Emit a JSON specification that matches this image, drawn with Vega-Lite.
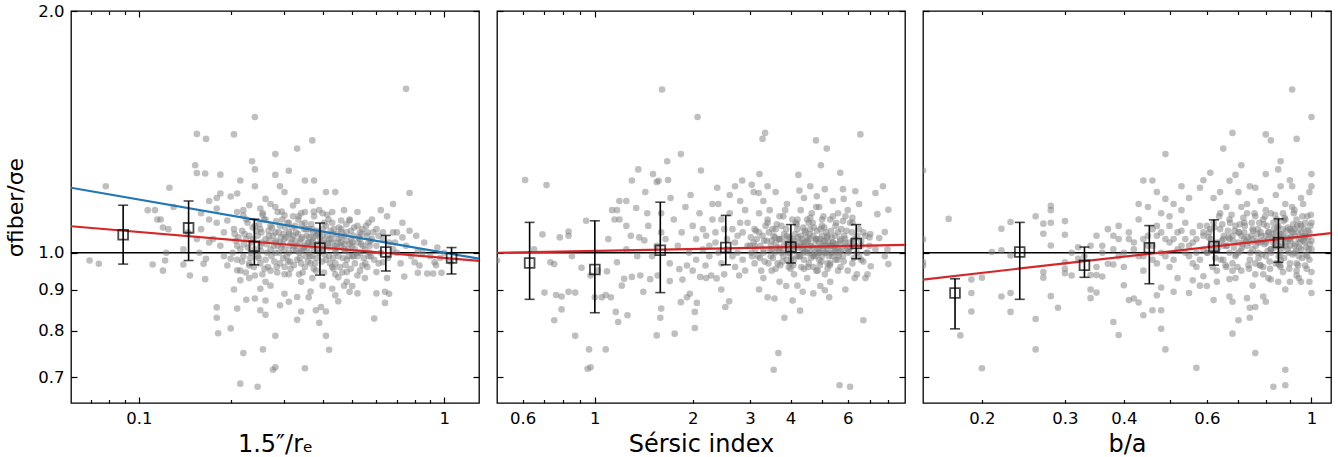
{
"$schema":"https://vega.github.io/schema/vega-lite/v6.json",
"background":"white",
"padding":{"left":4,"top":2,"right":5,"bottom":0},
"spacing":18,
"bounds":"flush",
"config":{
 "view":{"stroke":"black","strokeWidth":1.3},
 "axis":{"grid":false,"domain":false,"tickColor":"black","tickWidth":1.2,"labelFont":"DejaVu Sans","labelFontSize":16.5,"labelColor":"black","titleFont":"DejaVu Sans","titleFontSize":24,"titleFontWeight":"normal","titleColor":"black","labelOverlap":false,"labelFlush":false}
},
"datasets":{
 "one":[{"a":1}],
 "b1":[{"x":0.0889,"y":1.053,"lo":0.968,"hi":1.146},{"x":0.1456,"y":1.074,"lo":0.978,"hi":1.16},{"x":0.239,"y":1.019,"lo":0.966,"hi":1.101},{"x":0.392,"y":1.0135,"lo":0.938,"hi":1.089},{"x":0.644,"y":1.002,"lo":0.949,"hi":1.051},{"x":1.057,"y":0.985,"lo":0.941,"hi":1.015}],
 "b2":[{"x":0.63,"y":0.971,"lo":0.875,"hi":1.091},{"x":1.0,"y":0.953,"lo":0.842,"hi":1.096},{"x":1.59,"y":1.007,"lo":0.892,"hi":1.156},{"x":2.528,"y":1.015,"lo":0.966,"hi":1.113},{"x":4.01,"y":1.0165,"lo":0.971,"hi":1.084},{"x":6.37,"y":1.027,"lo":0.983,"hi":1.084}],
 "b3":[{"x":0.1754,"y":0.891,"lo":0.804,"hi":0.928},{"x":0.2406,"y":1.002,"lo":0.875,"hi":1.091},{"x":0.33,"y":0.965,"lo":0.932,"hi":1.0165},{"x":0.453,"y":1.0144,"lo":0.915,"hi":1.081},{"x":0.621,"y":1.0183,"lo":0.965,"hi":1.099},{"x":0.851,"y":1.03,"lo":0.973,"hi":1.102}],
 "f1":[{"x":0.06,"y":1.079,"c":"r"},{"x":1.3,"y":0.977,"c":"r"},{"x":0.06,"y":1.205,"c":"b"},{"x":1.3,"y":0.983,"c":"b"}],
 "f2":[{"x":0.5,"y":1.0,"c":"r"},{"x":9,"y":1.023,"c":"r"}],
 "f3":[{"x":0.15,"y":0.926,"c":"r"},{"x":1.1,"y":1.058,"c":"r"}],
 "s1":[
{"x":0.75,"y":1.6},{"x":0.24,"y":1.476},{"x":0.155,"y":1.406},{"x":0.166,"y":1.386},{"x":0.205,"y":1.404},{"x":0.37,"y":1.38},{"x":0.33,"y":1.348},{"x":0.28,"y":1.327},{"x":0.235,"y":1.3},{"x":0.153,"y":1.285},{"x":0.24,"y":1.27},{"x":0.155,"y":1.257},{"x":0.165,"y":1.255},{"x":0.185,"y":1.251},{"x":0.31,"y":1.265},{"x":0.28,"y":1.25},{"x":0.215,"y":1.23},{"x":0.35,"y":1.23},{"x":0.375,"y":1.23},{"x":0.126,"y":1.205},{"x":0.24,"y":1.21},{"x":0.078,"y":1.21},{"x":0.29,"y":1.21},{"x":0.41,"y":1.19},{"x":0.44,"y":1.19},{"x":0.77,"y":1.187},{"x":0.185,"y":1.185},{"x":0.21,"y":1.185},{"x":0.3,"y":1.19},{"x":0.33,"y":1.16},{"x":0.37,"y":1.16},{"x":0.68,"y":1.15},{"x":0.18,"y":1.17},{"x":0.17,"y":1.16},{"x":0.2,"y":1.175},{"x":0.13,"y":1.14},{"x":0.107,"y":1.13},{"x":0.113,"y":1.13},{"x":0.62,"y":1.13},{"x":0.65,"y":1.11},{"x":0.73,"y":1.09},{"x":0.81,"y":1.05},{"x":0.77,"y":1.065},{"x":0.115,"y":1.1},{"x":0.118,"y":1.1},{"x":0.12,"y":1.075},{"x":0.125,"y":1.07},{"x":0.123,"y":1.0},{"x":0.069,"y":0.978},{"x":0.074,"y":0.969},{"x":0.111,"y":0.967},{"x":0.12,"y":0.95},{"x":0.122,"y":0.978},{"x":0.14,"y":0.967},{"x":0.147,"y":0.937},{"x":0.163,"y":0.969},{"x":0.165,"y":0.927},{"x":0.18,"y":0.855},{"x":0.18,"y":0.83},{"x":0.182,"y":0.794},{"x":0.2,"y":0.805},{"x":0.205,"y":0.9},{"x":0.21,"y":0.852},{"x":0.225,"y":0.874},{"x":0.22,"y":0.75},{"x":0.215,"y":0.687},{"x":0.245,"y":0.681},{"x":0.255,"y":0.758},{"x":0.28,"y":0.788},{"x":0.275,"y":0.715},{"x":0.28,"y":0.72},{"x":0.35,"y":0.718},{"x":0.42,"y":0.757},{"x":0.41,"y":0.788},{"x":0.39,"y":0.818},{"x":0.33,"y":0.825},{"x":0.26,"y":0.837},{"x":0.25,"y":0.848},{"x":0.24,"y":0.877},{"x":0.26,"y":0.872},{"x":0.34,"y":0.845},{"x":0.38,"y":0.848},{"x":0.395,"y":0.856},{"x":0.41,"y":0.845},{"x":0.3,"y":0.889},{"x":0.31,"y":0.869},{"x":0.33,"y":0.881},{"x":0.365,"y":0.895},{"x":0.59,"y":0.828},{"x":0.5,"y":0.909},{"x":0.6,"y":0.89},{"x":0.64,"y":0.894},{"x":0.66,"y":0.889},{"x":0.64,"y":0.866},{"x":0.74,"y":0.934},{"x":0.82,"y":0.944},{"x":0.88,"y":0.942},{"x":0.92,"y":0.942},{"x":0.93,"y":0.973},{"x":0.98,"y":0.944},{"x":0.8,"y":0.973},{"x":0.83,"y":0.964},{"x":0.95,"y":1.015},
{"x":0.6,"y":1.07},{"x":0.56,"y":1.06},{"x":0.82,"y":1.005},{"x":0.7,"y":1.06},{"x":0.68,"y":1.01},{"x":0.63,"y":0.973},{"x":0.65,"y":0.93},{"x":0.6,"y":0.946},{"x":0.54,"y":0.964},{"x":0.52,"y":0.937},{"x":0.48,"y":0.946},{"x":0.47,"y":0.91},{"x":0.45,"y":0.932},{"x":0.43,"y":0.902},{"x":0.44,"y":0.885},{"x":0.49,"y":0.894},{"x":0.52,"y":1.124},{"x":0.49,"y":1.097},{"x":0.46,"y":1.097},{"x":0.43,"y":1.124},{"x":0.39,"y":1.13},{"x":0.35,"y":1.124},{"x":0.32,"y":1.145},{"x":0.3,"y":1.113},{"x":0.285,"y":1.124},{"x":0.27,"y":1.15},{"x":0.26,"y":1.167},{"x":0.25,"y":1.135},{"x":0.23,"y":1.146},{"x":0.22,"y":1.113},{"x":0.21,"y":1.124},{"x":0.195,"y":1.097},{"x":0.18,"y":1.135},{"x":0.17,"y":1.1},{"x":0.16,"y":1.07},{"x":0.155,"y":1.04},{"x":0.175,"y":1.04},{"x":0.185,"y":1.02},{"x":0.158,"y":1.0},{"x":0.166,"y":0.983},{"x":0.195,"y":0.964},{"x":0.2,"y":0.983},{"x":0.21,"y":0.951},{"x":0.215,"y":0.924},{"x":0.23,"y":0.964},{"x":0.24,"y":0.937},{"x":0.25,"y":0.902},
{"x":0.21,"y":1.02},{"x":0.22,"y":0.99},{"x":0.23,"y":1.05},{"x":0.24,"y":1.01},{"x":0.25,"y":0.97},{"x":0.26,"y":1.04},{"x":0.27,"y":1.08},{"x":0.28,"y":1.0},{"x":0.29,"y":1.03},{"x":0.3,"y":0.96},{"x":0.31,"y":1.06},{"x":0.32,"y":1.01},{"x":0.33,"y":0.98},{"x":0.34,"y":1.04},{"x":0.35,"y":1.09},{"x":0.36,"y":1.0},{"x":0.37,"y":1.03},{"x":0.38,"y":0.95},{"x":0.4,"y":1.05},{"x":0.42,"y":0.99},{"x":0.44,"y":1.02},{"x":0.46,"y":1.07},{"x":0.48,"y":0.98},{"x":0.5,"y":1.03},{"x":0.53,"y":1.0},{"x":0.56,"y":1.05},{"x":0.59,"y":0.98},
{"x":0.205,"y":1.07},{"x":0.215,"y":0.95},{"x":0.225,"y":1.1},{"x":0.235,"y":1.03},{"x":0.245,"y":0.99},{"x":0.255,"y":1.12},{"x":0.265,"y":0.96},{"x":0.275,"y":1.05},{"x":0.285,"y":1.02},{"x":0.295,"y":1.1},{"x":0.305,"y":0.99},{"x":0.315,"y":1.03},{"x":0.325,"y":1.08},{"x":0.335,"y":0.94},{"x":0.345,"y":1.01},{"x":0.355,"y":1.05},{"x":0.365,"y":0.97},{"x":0.375,"y":1.11},{"x":0.39,"y":1.0},{"x":0.41,"y":1.08},{"x":0.43,"y":0.96},{"x":0.45,"y":1.04},{"x":0.47,"y":1.01},{"x":0.49,"y":1.1},{"x":0.51,"y":0.97},{"x":0.54,"y":1.07},{"x":0.57,"y":1.02},
{"x":0.21,"y":0.98},{"x":0.225,"y":1.04},{"x":0.24,"y":1.08},{"x":0.25,"y":1.02},{"x":0.26,"y":0.98},{"x":0.27,"y":1.01},{"x":0.28,"y":1.06},{"x":0.29,"y":0.97},{"x":0.3,"y":1.04},{"x":0.31,"y":1.0},{"x":0.32,"y":1.11},{"x":0.33,"y":1.02},{"x":0.34,"y":0.97},{"x":0.35,"y":1.02},{"x":0.36,"y":1.07},{"x":0.37,"y":0.99},{"x":0.38,"y":1.05},{"x":0.4,"y":1.01},{"x":0.42,"y":1.04},{"x":0.44,"y":0.97},{"x":0.46,"y":1.02},{"x":0.48,"y":1.06},{"x":0.5,"y":0.99},{"x":0.53,"y":1.04},{"x":0.56,"y":0.96},{"x":0.6,"y":1.02},{"x":0.63,"y":1.04},
{"x":0.215,"y":1.01},{"x":0.23,"y":0.97},{"x":0.245,"y":1.05},{"x":0.26,"y":1.1},{"x":0.27,"y":0.95},{"x":0.28,"y":1.03},{"x":0.29,"y":1.08},{"x":0.3,"y":1.01},{"x":0.31,"y":0.94},{"x":0.32,"y":1.05},{"x":0.335,"y":1.0},{"x":0.35,"y":0.96},{"x":0.36,"y":1.03},{"x":0.375,"y":1.01},{"x":0.39,"y":1.06},{"x":0.41,"y":0.98},{"x":0.43,"y":1.03},{"x":0.45,"y":0.99},{"x":0.47,"y":1.05},{"x":0.5,"y":1.02},{"x":0.53,"y":0.95},{"x":0.57,"y":1.0},{"x":0.61,"y":0.97},{"x":0.66,"y":1.03},{"x":0.7,"y":1.0},{"x":0.75,"y":1.02},{"x":0.85,"y":1.0},{"x":0.9,"y":0.99},{"x":0.72,"y":0.97},{"x":0.68,"y":1.06},
{"x":0.22,"y":1.13},{"x":0.25,"y":1.07},{"x":0.28,"y":1.14},{"x":0.31,"y":1.09},{"x":0.34,"y":1.12},{"x":0.37,"y":1.07},{"x":0.4,"y":1.12},{"x":0.43,"y":1.09},{"x":0.47,"y":1.13},{"x":0.52,"y":1.08},{"x":0.58,"y":1.1},{"x":0.63,"y":1.06},{"x":0.19,"y":1.06},{"x":0.17,"y":1.03},{"x":0.19,"y":0.99},{"x":0.18,"y":1.09},{"x":0.16,"y":1.12},{"x":0.145,"y":1.06},{"x":0.14,"y":1.01},
{"x":0.23,"y":0.93},{"x":0.27,"y":0.91},{"x":0.3,"y":0.94},{"x":0.34,"y":0.92},{"x":0.37,"y":0.93},{"x":0.4,"y":0.91},{"x":0.44,"y":0.94},{"x":0.48,"y":0.92},{"x":0.55,"y":0.93},{"x":0.29,"y":0.86},{"x":0.36,"y":0.88},{"x":0.45,"y":0.87},{"x":0.52,"y":0.89},{"x":0.26,"y":0.92},
{"x":0.212,"y":1.045},{"x":0.228,"y":1.015},{"x":0.238,"y":0.96},{"x":0.252,"y":1.06},{"x":0.262,"y":1.025},{"x":0.272,"y":0.99},{"x":0.282,"y":1.095},{"x":0.292,"y":1.045},{"x":0.302,"y":1.075},{"x":0.312,"y":1.02},{"x":0.322,"y":0.965},{"x":0.332,"y":1.055},{"x":0.342,"y":1.085},{"x":0.352,"y":0.99},{"x":0.362,"y":1.045},{"x":0.372,"y":1.06},{"x":0.385,"y":1.025},{"x":0.398,"y":0.975},{"x":0.412,"y":1.03},{"x":0.425,"y":1.065},{"x":0.438,"y":1.01},{"x":0.452,"y":1.075},{"x":0.466,"y":0.985},{"x":0.48,"y":1.035},{"x":0.495,"y":1.065},{"x":0.51,"y":1.01},{"x":0.525,"y":1.045},{"x":0.545,"y":0.985},{"x":0.565,"y":1.03},{"x":0.585,"y":1.06},{"x":0.62,"y":1.0},{"x":0.655,"y":0.985},{"x":0.69,"y":1.03},{"x":0.73,"y":1.045},{"x":0.78,"y":0.99},{"x":0.86,"y":1.03},{"x":0.97,"y":0.985},{"x":1.05,"y":0.975},{"x":1.0,"y":1.0},{"x":0.94,"y":0.965},
{"x":0.218,"y":1.065},{"x":0.248,"y":1.085},{"x":0.268,"y":1.035},{"x":0.288,"y":1.0},{"x":0.298,"y":1.055},{"x":0.318,"y":1.075},{"x":0.338,"y":1.03},{"x":0.348,"y":1.07},{"x":0.368,"y":1.02},{"x":0.392,"y":1.045},{"x":0.405,"y":1.09},{"x":0.42,"y":1.015},{"x":0.445,"y":1.055},{"x":0.46,"y":1.03},{"x":0.485,"y":1.01},{"x":0.505,"y":1.05},{"x":0.535,"y":1.025},{"x":0.555,"y":1.08},{"x":0.575,"y":0.99},{"x":0.61,"y":1.05},
{"x":0.232,"y":0.985},{"x":0.258,"y":0.955},{"x":0.278,"y":0.975},{"x":0.308,"y":0.975},{"x":0.328,"y":1.005},{"x":0.358,"y":0.975},{"x":0.382,"y":0.985},{"x":0.402,"y":1.035},{"x":0.432,"y":0.985},{"x":0.475,"y":0.965},{"x":0.52,"y":0.99},{"x":0.58,"y":1.04},
{"x":0.203,"y":1.0},{"x":0.208,"y":1.035},{"x":0.218,"y":0.975},{"x":0.222,"y":1.055},{"x":0.227,"y":1.09},{"x":0.233,"y":1.0},{"x":0.237,"y":1.04},{"x":0.242,"y":1.065},{"x":0.247,"y":0.985},{"x":0.253,"y":1.03},{"x":0.257,"y":1.1},{"x":0.263,"y":1.0},{"x":0.267,"y":1.05},{"x":0.273,"y":1.075},{"x":0.277,"y":1.02},{"x":0.283,"y":0.96},{"x":0.287,"y":1.06},{"x":0.293,"y":1.015},{"x":0.297,"y":0.985},{"x":0.303,"y":1.045},{"x":0.307,"y":1.09},{"x":0.313,"y":0.975},{"x":0.317,"y":1.04},{"x":0.323,"y":1.02},{"x":0.327,"y":1.06},{"x":0.333,"y":1.1},{"x":0.337,"y":0.985},{"x":0.343,"y":1.045},{"x":0.347,"y":1.015},{"x":0.353,"y":1.07},{"x":0.357,"y":1.03},{"x":0.363,"y":0.99},{"x":0.367,"y":1.085},{"x":0.373,"y":1.045},{"x":0.378,"y":0.97},{"x":0.383,"y":1.065},{"x":0.388,"y":1.01},{"x":0.394,"y":1.03},{"x":0.4,"y":1.07},{"x":0.406,"y":0.995},{"x":0.414,"y":1.05},{"x":0.418,"y":1.1},{"x":0.423,"y":0.97},{"x":0.428,"y":1.04},{"x":0.435,"y":1.07},{"x":0.442,"y":1.0},{"x":0.448,"y":1.03},{"x":0.455,"y":0.96},{"x":0.462,"y":1.06},{"x":0.47,"y":1.025},{"x":0.478,"y":1.085},{"x":0.487,"y":0.99},{"x":0.497,"y":1.04},{"x":0.507,"y":1.075},{"x":0.518,"y":1.0},{"x":0.53,"y":1.06},{"x":0.542,"y":1.02},{"x":0.552,"y":0.97},{"x":0.565,"y":1.09},{"x":0.575,"y":1.035},
{"x":0.206,"y":1.055},{"x":0.221,"y":1.025},{"x":0.236,"y":1.075},{"x":0.251,"y":1.005},{"x":0.266,"y":1.065},{"x":0.281,"y":1.035},{"x":0.296,"y":1.025},{"x":0.311,"y":1.055},{"x":0.326,"y":1.035},{"x":0.341,"y":1.005},{"x":0.356,"y":1.015},{"x":0.371,"y":1.035},{"x":0.386,"y":1.055},{"x":0.401,"y":1.015},{"x":0.416,"y":1.025},{"x":0.431,"y":1.055},{"x":0.446,"y":1.015},{"x":0.461,"y":1.045},{"x":0.476,"y":1.005},{"x":0.491,"y":1.025},{"x":0.506,"y":0.99},{"x":0.521,"y":1.03},{"x":0.536,"y":1.055},{"x":0.551,"y":1.01},{"x":0.566,"y":0.99},{"x":0.224,"y":0.945},{"x":0.254,"y":0.94},{"x":0.284,"y":0.945},{"x":0.314,"y":0.955},{"x":0.344,"y":0.945},{"x":0.374,"y":0.955},{"x":0.404,"y":0.945},{"x":0.434,"y":0.955},{"x":0.464,"y":0.945},{"x":0.494,"y":0.955},{"x":0.254,"y":1.115},{"x":0.294,"y":1.125},{"x":0.334,"y":1.11},{"x":0.374,"y":1.125},{"x":0.414,"y":1.115}
 ],
 "s2":[
{"x":1.61,"y":1.597},{"x":2.07,"y":1.476},{"x":3.34,"y":1.41},{"x":3.28,"y":1.386},{"x":6.56,"y":1.404},{"x":4.79,"y":1.38},{"x":5.17,"y":1.348},{"x":4.96,"y":1.285},{"x":5.69,"y":1.258},{"x":1.84,"y":1.327},{"x":1.67,"y":1.3},{"x":1.36,"y":1.27},{"x":1.51,"y":1.253},{"x":1.57,"y":1.229},{"x":1.55,"y":1.225},{"x":1.68,"y":1.232},{"x":1.3,"y":1.23},{"x":2.12,"y":1.266},{"x":3.21,"y":1.253},{"x":4.23,"y":1.25},{"x":4.26,"y":1.195},{"x":0.61,"y":1.232},{"x":0.71,"y":1.214},{"x":1.43,"y":1.19},{"x":2.38,"y":1.205},{"x":2.7,"y":1.21},{"x":2.84,"y":1.23},{"x":3.04,"y":1.215},{"x":3.08,"y":1.19},{"x":3.19,"y":1.187},{"x":3.4,"y":1.21},{"x":1.97,"y":1.18},{"x":1.71,"y":1.17},{"x":1.19,"y":1.16},{"x":1.25,"y":1.16},{"x":1.13,"y":1.13},{"x":1.17,"y":1.13},{"x":1.34,"y":1.137},{"x":1.15,"y":1.1},{"x":1.19,"y":1.1},{"x":1.25,"y":1.08},{"x":1.29,"y":1.05},{"x":1.37,"y":1.045},{"x":1.46,"y":1.08},{"x":1.42,"y":1.036},{"x":0.94,"y":1.096},{"x":0.69,"y":1.054},{"x":0.78,"y":1.045},{"x":0.83,"y":1.05},{"x":0.83,"y":1.063},{"x":0.73,"y":0.973},{"x":0.75,"y":0.968},{"x":0.7,"y":0.892},{"x":0.76,"y":0.886},{"x":0.79,"y":0.882},{"x":0.83,"y":0.894},{"x":0.87,"y":0.892},{"x":0.75,"y":0.824},{"x":0.79,"y":0.85},{"x":0.87,"y":0.788},{"x":0.96,"y":0.758},{"x":0.95,"y":0.717},{"x":0.97,"y":0.72},{"x":1.08,"y":0.758},{"x":0.91,"y":0.958},{"x":1.02,"y":0.951},{"x":0.97,"y":0.937},{"x":1.0,"y":0.88},{"x":1.05,"y":0.88},{"x":1.08,"y":0.886},{"x":1.12,"y":0.88},{"x":1.16,"y":0.844},{"x":1.18,"y":0.82},{"x":1.26,"y":0.836},{"x":1.09,"y":0.948},{"x":1.17,"y":0.973},{"x":1.21,"y":0.91},{"x":1.23,"y":0.928},{"x":1.3,"y":0.933},{"x":1.38,"y":0.937},{"x":1.41,"y":0.894},{"x":1.48,"y":0.927},{"x":1.56,"y":0.937},{"x":1.59,"y":0.83},{"x":1.6,"y":0.852},{"x":1.55,"y":0.789},{"x":1.76,"y":0.793},{"x":1.84,"y":0.868},{"x":1.86,"y":0.926},{"x":1.96,"y":0.889},{"x":2.03,"y":0.844},{"x":2.06,"y":0.866},{"x":2.03,"y":0.806},{"x":1.92,"y":0.88},{"x":1.7,"y":0.922},{"x":1.82,"y":0.954},{"x":1.92,"y":0.964},{"x":2.11,"y":0.933},{"x":2.19,"y":0.964},{"x":2.28,"y":0.937},{"x":2.37,"y":0.929},{"x":2.45,"y":0.9},{"x":2.52,"y":0.856},{"x":2.59,"y":0.87},{"x":2.78,"y":0.937},{"x":3.57,"y":0.877},{"x":3.55,"y":0.715},{"x":3.67,"y":0.75},{"x":3.83,"y":0.83},{"x":3.88,"y":0.909},{"x":4.06,"y":0.872},{"x":4.28,"y":0.847},{"x":4.36,"y":0.894},{"x":5.26,"y":0.88},{"x":5.66,"y":0.684},{"x":6.1,"y":0.681},{"x":6.7,"y":0.824},{"x":5.1,"y":0.898},{"x":4.94,"y":0.909},{"x":6.4,"y":0.94},{"x":6.7,"y":0.975},{"x":7.06,"y":0.962},{"x":8.0,"y":0.968},{"x":7.95,"y":1.009},{"x":7.8,"y":1.061},{"x":8.0,"y":1.131},{"x":7.7,"y":1.21},{"x":7.3,"y":1.187},{"x":7.4,"y":1.117},{"x":6.33,"y":1.193},{"x":5.83,"y":1.167},{"x":5.1,"y":1.2},{"x":4.82,"y":1.176},{"x":7.04,"y":1.055},{"x":7.5,"y":1.043},{"x":0.5,"y":0.978},
{"x":1.6,"y":1.12},{"x":1.75,"y":1.1},{"x":1.9,"y":1.14},{"x":2.0,"y":1.08},{"x":2.1,"y":1.12},{"x":2.2,"y":1.05},{"x":2.3,"y":1.1},{"x":2.4,"y":1.15},{"x":2.5,"y":1.07},{"x":2.6,"y":1.12},{"x":2.7,"y":1.03},{"x":2.8,"y":1.09},{"x":2.9,"y":1.13},{"x":1.65,"y":1.04},{"x":1.8,"y":1.02},{"x":1.95,"y":1.0},{"x":2.05,"y":0.98},{"x":2.15,"y":1.01},{"x":2.25,"y":0.99},{"x":2.35,"y":1.03},{"x":2.45,"y":0.97},{"x":2.55,"y":1.01},{"x":2.65,"y":0.99},{"x":2.75,"y":1.05},{"x":2.85,"y":0.98},{"x":2.95,"y":1.02},{"x":1.5,"y":0.99},{"x":1.7,"y":0.97},{"x":2.0,"y":0.95},{"x":2.2,"y":0.93},{"x":2.5,"y":0.94},{"x":2.9,"y":0.95},{"x":1.45,"y":1.12},{"x":1.35,"y":0.99},{"x":2.6,"y":1.18},{"x":2.8,"y":1.16},{"x":1.6,"y":1.06},{"x":2.3,"y":1.15},
{"x":3.0,"y":1.02},{"x":3.1,"y":0.97},{"x":3.2,"y":1.06},{"x":3.3,"y":1.0},{"x":3.4,"y":1.09},{"x":3.5,"y":0.95},{"x":3.6,"y":1.03},{"x":3.7,"y":1.11},{"x":3.8,"y":0.99},{"x":3.9,"y":1.05},{"x":4.0,"y":1.01},{"x":4.1,"y":0.94},{"x":4.2,"y":1.07},{"x":4.3,"y":1.03},{"x":4.4,"y":0.98},{"x":4.5,"y":1.1},{"x":4.6,"y":1.02},{"x":4.7,"y":0.96},{"x":4.8,"y":1.04},{"x":4.9,"y":1.0},{"x":5.0,"y":1.08},{"x":5.2,"y":0.97},{"x":5.4,"y":1.03},{"x":5.6,"y":1.06},{"x":5.8,"y":0.99},{"x":6.0,"y":1.01},{"x":6.3,"y":1.04},{"x":6.6,"y":0.98},{"x":7.0,"y":1.02},
{"x":3.05,"y":0.99},{"x":3.15,"y":1.04},{"x":3.25,"y":0.95},{"x":3.35,"y":1.08},{"x":3.45,"y":1.01},{"x":3.55,"y":1.05},{"x":3.65,"y":0.97},{"x":3.75,"y":1.0},{"x":3.85,"y":1.13},{"x":3.95,"y":0.96},{"x":4.05,"y":1.04},{"x":4.15,"y":1.09},{"x":4.25,"y":0.99},{"x":4.35,"y":1.01},{"x":4.45,"y":1.06},{"x":4.55,"y":0.97},{"x":4.65,"y":1.12},{"x":4.75,"y":1.0},{"x":4.85,"y":0.95},{"x":4.95,"y":1.07},{"x":5.1,"y":1.02},{"x":5.3,"y":1.1},{"x":5.5,"y":0.98},{"x":5.7,"y":1.04},{"x":5.9,"y":1.11},{"x":6.2,"y":0.97},{"x":6.5,"y":1.07},{"x":6.8,"y":1.05},
{"x":3.1,"y":1.07},{"x":3.3,"y":0.93},{"x":3.5,"y":1.01},{"x":3.7,"y":1.04},{"x":3.9,"y":0.98},{"x":4.1,"y":1.02},{"x":4.3,"y":1.13},{"x":4.5,"y":1.0},{"x":4.7,"y":1.05},{"x":4.9,"y":0.98},{"x":5.1,"y":0.94},{"x":5.3,"y":1.0},{"x":5.5,"y":1.08},{"x":5.7,"y":0.96},{"x":5.9,"y":1.02},{"x":6.1,"y":1.09},{"x":6.4,"y":1.0},{"x":6.8,"y":0.93},{"x":3.2,"y":1.12},{"x":3.6,"y":1.07},{"x":4.0,"y":0.97},{"x":4.4,"y":1.03},{"x":4.8,"y":1.14},{"x":5.2,"y":1.05},{"x":5.6,"y":1.0},{"x":6.0,"y":0.95},
{"x":3.8,"y":1.01},{"x":4.0,"y":1.03},{"x":4.2,"y":0.99},{"x":4.4,"y":1.02},{"x":4.6,"y":1.0},{"x":4.8,"y":1.04},{"x":5.0,"y":0.99},{"x":5.2,"y":1.01},{"x":5.4,"y":1.03},{"x":4.1,"y":0.98},{"x":4.3,"y":1.05},{"x":4.5,"y":1.01},{"x":4.7,"y":0.99},{"x":4.9,"y":1.03},{"x":5.1,"y":1.0},{"x":5.3,"y":0.97},{"x":3.9,"y":1.04},{"x":4.6,"y":1.07},{"x":5.0,"y":1.05},{"x":5.5,"y":1.01},
{"x":3.3,"y":1.16},{"x":3.9,"y":1.15},{"x":4.4,"y":1.17},{"x":4.9,"y":1.14},{"x":5.4,"y":1.16},{"x":6.0,"y":1.13},{"x":6.5,"y":1.15},{"x":3.6,"y":1.19},{"x":4.6,"y":1.21},{"x":5.8,"y":1.2},
{"x":3.2,"y":0.9},{"x":3.7,"y":0.92},{"x":4.2,"y":0.91},{"x":4.7,"y":0.89},{"x":5.3,"y":0.92},{"x":5.9,"y":0.9},{"x":6.3,"y":0.93},{"x":3.4,"y":0.88},{"x":4.5,"y":0.93},{"x":6.9,"y":0.94},
{"x":3.02,"y":1.045},{"x":3.12,"y":1.01},{"x":3.22,"y":0.985},{"x":3.32,"y":1.035},{"x":3.42,"y":0.97},{"x":3.52,"y":1.07},{"x":3.62,"y":1.015},{"x":3.72,"y":0.965},{"x":3.82,"y":1.055},{"x":3.92,"y":1.02},{"x":4.02,"y":0.985},{"x":4.12,"y":1.035},{"x":4.22,"y":1.045},{"x":4.32,"y":0.96},{"x":4.42,"y":1.065},{"x":4.52,"y":1.035},{"x":4.62,"y":0.985},{"x":4.72,"y":1.075},{"x":4.82,"y":1.015},{"x":4.92,"y":0.965},{"x":5.05,"y":1.035},{"x":5.15,"y":1.06},{"x":5.25,"y":0.99},{"x":5.35,"y":1.045},{"x":5.45,"y":1.015},{"x":5.65,"y":1.025},{"x":5.85,"y":1.05},{"x":6.05,"y":1.005},{"x":6.25,"y":1.03},{"x":6.6,"y":1.02},{"x":6.9,"y":1.0},{"x":7.3,"y":1.01},{"x":7.8,"y":0.99},{"x":3.45,"y":1.13},{"x":4.05,"y":1.1},{"x":4.55,"y":1.09},{"x":5.05,"y":1.11},{"x":5.6,"y":1.12},{"x":6.2,"y":1.09},{"x":3.75,"y":1.08},
{"x":2.05,"y":1.04},{"x":2.15,"y":1.07},{"x":2.35,"y":1.06},{"x":2.45,"y":1.1},{"x":2.55,"y":1.04},{"x":2.65,"y":1.07},{"x":2.75,"y":1.0},{"x":2.85,"y":1.06},{"x":2.95,"y":1.09},{"x":2.25,"y":1.02},{"x":2.7,"y":0.96},{"x":2.4,"y":1.0},{"x":1.85,"y":1.06},{"x":1.55,"y":1.02},{"x":1.25,"y":1.01},{"x":1.1,"y":1.04},{"x":0.85,"y":0.99},{"x":0.65,"y":1.01},
{"x":3.58,"y":1.0},{"x":3.98,"y":1.0},{"x":4.38,"y":1.0},{"x":4.78,"y":0.99},{"x":5.18,"y":1.02},{"x":5.58,"y":0.98},{"x":4.18,"y":1.02},{"x":4.58,"y":1.04},{"x":4.98,"y":1.02},{"x":3.68,"y":1.04},{"x":3.48,"y":0.99},{"x":5.38,"y":0.99},
{"x":3.03,"y":1.0},{"x":3.08,"y":1.03},{"x":3.13,"y":1.065},{"x":3.18,"y":0.99},{"x":3.23,"y":1.02},{"x":3.28,"y":1.05},{"x":3.33,"y":0.975},{"x":3.38,"y":1.035},{"x":3.43,"y":1.06},{"x":3.48,"y":1.02},{"x":3.53,"y":0.985},{"x":3.58,"y":1.045},{"x":3.63,"y":1.085},{"x":3.68,"y":1.01},{"x":3.73,"y":1.04},{"x":3.78,"y":0.975},{"x":3.83,"y":1.025},{"x":3.88,"y":1.07},{"x":3.93,"y":1.0},{"x":3.98,"y":1.045},{"x":4.03,"y":1.02},{"x":4.08,"y":0.965},{"x":4.13,"y":1.055},{"x":4.18,"y":1.085},{"x":4.23,"y":1.015},{"x":4.28,"y":0.99},{"x":4.33,"y":1.04},{"x":4.38,"y":1.075},{"x":4.43,"y":1.005},{"x":4.48,"y":1.03},{"x":4.53,"y":0.96},{"x":4.58,"y":1.055},{"x":4.63,"y":1.02},{"x":4.68,"y":1.09},{"x":4.73,"y":0.995},{"x":4.78,"y":1.035},{"x":4.83,"y":1.065},{"x":4.88,"y":1.0},{"x":4.93,"y":1.04},{"x":4.98,"y":0.975},{"x":5.03,"y":1.015},{"x":5.08,"y":1.075},{"x":5.13,"y":1.0},{"x":5.18,"y":1.045},{"x":5.23,"y":1.03},{"x":5.28,"y":0.965},{"x":5.33,"y":1.065},{"x":5.38,"y":1.02},{"x":5.43,"y":1.0},{"x":5.48,"y":1.05},{"x":5.53,"y":1.09},{"x":5.58,"y":1.015},{"x":5.63,"y":0.99},{"x":5.68,"y":1.035},{"x":5.73,"y":1.07},{"x":5.78,"y":1.01},{"x":5.83,"y":0.975},{"x":5.88,"y":1.04},{"x":5.95,"y":1.065},{"x":6.02,"y":1.0},{"x":6.1,"y":1.03},{"x":6.18,"y":1.06},{"x":6.26,"y":0.985},{"x":6.34,"y":1.02},{"x":6.42,"y":1.05},{"x":6.5,"y":0.99},{"x":6.6,"y":1.035},{"x":6.7,"y":1.06},{"x":6.85,"y":1.0},{"x":7.0,"y":1.045},
{"x":3.1,"y":1.02},{"x":3.3,"y":1.01},{"x":3.5,"y":1.035},{"x":3.7,"y":1.015},{"x":3.9,"y":1.025},{"x":4.1,"y":1.005},{"x":4.3,"y":1.02},{"x":4.5,"y":1.045},{"x":4.7,"y":1.015},{"x":4.9,"y":1.01},{"x":5.1,"y":1.035},{"x":5.3,"y":1.02},{"x":5.5,"y":1.025},{"x":5.7,"y":1.005},{"x":5.9,"y":1.03},{"x":6.1,"y":1.015},{"x":4.0,"y":0.955},{"x":4.4,"y":0.955},{"x":4.8,"y":0.95},{"x":5.2,"y":0.955},{"x":5.6,"y":0.95},{"x":3.6,"y":0.955},{"x":3.4,"y":1.1},{"x":3.8,"y":1.11},{"x":4.2,"y":1.1},{"x":4.6,"y":1.105},{"x":5.0,"y":1.1},{"x":5.4,"y":1.11},{"x":5.8,"y":1.095},{"x":6.2,"y":1.105}
 ],
 "s3":[
{"x":0.91,"y":1.597},{"x":1.0,"y":1.476},{"x":0.68,"y":1.41},{"x":0.8,"y":1.404},{"x":0.82,"y":1.38},{"x":0.93,"y":1.386},{"x":0.65,"y":1.348},{"x":0.49,"y":1.327},{"x":0.86,"y":1.3},{"x":0.71,"y":1.285},{"x":0.85,"y":1.27},{"x":0.69,"y":1.25},{"x":0.61,"y":1.258},{"x":0.8,"y":1.253},{"x":1.0,"y":1.253},{"x":0.44,"y":1.23},{"x":0.46,"y":1.23},{"x":0.59,"y":1.231},{"x":0.67,"y":1.229},{"x":0.9,"y":1.231},{"x":1.0,"y":1.21},{"x":0.53,"y":1.21},{"x":0.58,"y":1.205},{"x":0.64,"y":1.19},{"x":0.74,"y":1.21},{"x":0.86,"y":1.21},{"x":0.91,"y":1.21},{"x":0.47,"y":1.19},{"x":0.49,"y":1.167},{"x":0.76,"y":1.205},{"x":0.15,"y":1.266},{"x":0.17,"y":1.102},{"x":0.23,"y":1.092},{"x":0.22,"y":1.071},{"x":0.26,"y":1.11},{"x":0.27,"y":1.087},{"x":0.27,"y":1.056},{"x":0.28,"y":1.144},{"x":0.28,"y":1.13},{"x":0.28,"y":1.09},{"x":0.3,"y":1.095},{"x":0.3,"y":1.053},{"x":0.28,"y":1.021},{"x":0.21,"y":1.002},{"x":0.22,"y":1.007},{"x":0.23,"y":0.992},{"x":0.19,"y":0.926},{"x":0.2,"y":0.931},{"x":0.19,"y":0.891},{"x":0.19,"y":0.845},{"x":0.18,"y":0.789},{"x":0.2,"y":0.718},{"x":0.22,"y":0.882},{"x":0.23,"y":0.891},{"x":0.23,"y":0.844},{"x":0.26,"y":0.827},{"x":0.26,"y":0.758},{"x":0.27,"y":0.946},{"x":0.27,"y":0.931},{"x":0.28,"y":0.883},{"x":0.29,"y":0.854},{"x":0.3,"y":0.955},{"x":0.3,"y":0.943},{"x":0.3,"y":0.973},{"x":0.31,"y":0.937},{"x":0.32,"y":1.016},{"x":0.32,"y":0.983},{"x":0.34,"y":0.938},{"x":0.35,"y":0.938},{"x":0.34,"y":0.9},{"x":0.35,"y":0.892},{"x":0.34,"y":0.878},{"x":0.36,"y":0.934},{"x":0.37,"y":0.969},{"x":0.38,"y":0.967},{"x":0.38,"y":0.82},{"x":0.39,"y":0.79},{"x":0.4,"y":0.911},{"x":0.41,"y":0.873},{"x":0.42,"y":0.877},{"x":0.43,"y":0.867},{"x":0.44,"y":0.836},{"x":0.46,"y":0.848},{"x":0.48,"y":0.848},{"x":0.48,"y":0.804},{"x":0.49,"y":0.758},{"x":0.47,"y":0.885},{"x":0.48,"y":0.905},{"x":0.51,"y":0.894},{"x":0.55,"y":0.891},{"x":0.57,"y":0.719},{"x":0.56,"y":0.924},{"x":0.59,"y":0.935},{"x":0.6,"y":0.909},{"x":0.62,"y":0.873},{"x":0.67,"y":0.882},{"x":0.68,"y":0.869},{"x":0.67,"y":0.927},{"x":0.7,"y":0.824},{"x":0.68,"y":0.793},{"x":0.73,"y":0.878},{"x":0.74,"y":0.854},{"x":0.76,"y":0.856},{"x":0.74,"y":0.83},{"x":0.76,"y":0.75},{"x":0.8,"y":0.869},{"x":0.79,"y":0.882},{"x":0.83,"y":0.681},{"x":0.88,"y":0.684},{"x":0.88,"y":0.715},{"x":0.85,"y":0.92},{"x":0.87,"y":0.946},{"x":0.9,"y":0.92},{"x":0.95,"y":0.92},{"x":1.0,"y":0.891},{"x":1.0,"y":0.946},{"x":0.97,"y":0.964},{"x":0.93,"y":0.937},{"x":0.82,"y":0.926},{"x":0.78,"y":0.964},{"x":0.15,"y":1.039},{"x":0.15,"y":0.973},{"x":0.15,"y":0.964},
{"x":0.36,"y":1.02},{"x":0.38,"y":1.05},{"x":0.39,"y":1.08},{"x":0.4,"y":1.0},{"x":0.41,"y":1.06},{"x":0.42,"y":1.03},{"x":0.43,"y":1.1},{"x":0.44,"y":0.99},{"x":0.45,"y":1.05},{"x":0.46,"y":1.02},{"x":0.47,"y":1.08},{"x":0.48,"y":1.0},{"x":0.49,"y":1.04},{"x":0.5,"y":1.11},{"x":0.51,"y":0.98},{"x":0.52,"y":1.06},{"x":0.53,"y":1.02},{"x":0.54,"y":1.09},{"x":0.55,"y":0.99},{"x":0.4,"y":0.96},{"x":0.44,"y":0.95},{"x":0.5,"y":0.96},{"x":0.52,"y":0.93},{"x":0.37,"y":1.07},{"x":0.34,"y":1.02},{"x":0.35,"y":1.05},{"x":0.45,"y":1.14},{"x":0.43,"y":1.15},{"x":0.51,"y":1.15},{"x":0.53,"y":1.13},{"x":0.55,"y":1.17},{"x":0.33,"y":0.99},{"x":0.39,"y":0.99},{"x":0.47,"y":0.97},
{"x":0.56,"y":1.03},{"x":0.58,"y":0.98},{"x":0.6,"y":1.08},{"x":0.62,"y":1.01},{"x":0.64,"y":1.12},{"x":0.66,"y":0.96},{"x":0.68,"y":1.05},{"x":0.7,"y":1.0},{"x":0.72,"y":1.09},{"x":0.74,"y":1.03},{"x":0.76,"y":0.97},{"x":0.78,"y":1.06},{"x":0.8,"y":1.13},{"x":0.82,"y":1.01},{"x":0.84,"y":1.04},{"x":0.86,"y":0.98},{"x":0.88,"y":1.1},{"x":0.9,"y":1.02},{"x":0.92,"y":1.07},{"x":0.94,"y":0.99},{"x":0.96,"y":1.05},{"x":0.98,"y":1.11},{"x":1.0,"y":1.01},
{"x":0.57,"y":0.96},{"x":0.59,"y":1.06},{"x":0.61,"y":1.02},{"x":0.63,"y":0.95},{"x":0.65,"y":1.04},{"x":0.67,"y":1.1},{"x":0.69,"y":0.99},{"x":0.71,"y":1.14},{"x":0.73,"y":1.02},{"x":0.75,"y":1.07},{"x":0.77,"y":1.0},{"x":0.79,"y":0.96},{"x":0.81,"y":1.04},{"x":0.83,"y":1.09},{"x":0.85,"y":0.97},{"x":0.87,"y":1.05},{"x":0.89,"y":1.01},{"x":0.91,"y":1.14},{"x":0.93,"y":0.97},{"x":0.95,"y":1.08},{"x":0.97,"y":1.03},{"x":0.99,"y":0.98},
{"x":0.6,"y":1.0},{"x":0.64,"y":1.07},{"x":0.68,"y":0.97},{"x":0.72,"y":1.04},{"x":0.76,"y":1.11},{"x":0.8,"y":0.99},{"x":0.84,"y":1.06},{"x":0.88,"y":1.03},{"x":0.92,"y":1.0},{"x":0.96,"y":1.15},{"x":0.62,"y":1.09},{"x":0.66,"y":1.02},{"x":0.7,"y":1.06},{"x":0.74,"y":0.98},{"x":0.78,"y":1.03},{"x":0.82,"y":1.12},{"x":0.86,"y":1.0},{"x":0.9,"y":1.07},{"x":0.94,"y":1.04},{"x":0.98,"y":0.99},
{"x":0.65,"y":1.02},{"x":0.7,"y":1.03},{"x":0.75,"y":1.01},{"x":0.8,"y":1.05},{"x":0.85,"y":1.02},{"x":0.9,"y":1.04},{"x":0.95,"y":1.01},{"x":0.67,"y":1.0},{"x":0.72,"y":1.06},{"x":0.77,"y":1.03},{"x":0.82,"y":1.01},{"x":0.87,"y":1.07},{"x":0.92,"y":1.02},{"x":0.97,"y":1.05},{"x":0.71,"y":0.95},{"x":0.79,"y":0.94},{"x":0.86,"y":0.96},{"x":0.93,"y":0.95},
{"x":0.62,"y":1.17},{"x":0.7,"y":1.19},{"x":0.78,"y":1.16},{"x":0.84,"y":1.18},{"x":0.88,"y":1.15},{"x":0.95,"y":1.17},{"x":0.99,"y":1.19},{"x":0.73,"y":1.15},{"x":0.66,"y":1.14},{"x":0.92,"y":1.13},
{"x":0.63,"y":0.92},{"x":0.69,"y":0.93},{"x":0.75,"y":0.91},{"x":0.81,"y":0.93},{"x":0.88,"y":0.9},{"x":0.94,"y":0.93},{"x":0.99,"y":0.92},{"x":0.58,"y":0.91},
{"x":0.605,"y":1.045},{"x":0.625,"y":0.985},{"x":0.645,"y":1.035},{"x":0.665,"y":1.065},{"x":0.685,"y":1.015},{"x":0.705,"y":1.085},{"x":0.715,"y":1.025},{"x":0.735,"y":0.965},{"x":0.745,"y":1.05},{"x":0.765,"y":1.035},{"x":0.775,"y":1.09},{"x":0.785,"y":0.995},{"x":0.795,"y":1.025},{"x":0.805,"y":1.08},{"x":0.815,"y":0.975},{"x":0.825,"y":1.045},{"x":0.835,"y":1.015},{"x":0.845,"y":1.1},{"x":0.855,"y":1.055},{"x":0.865,"y":1.03},{"x":0.875,"y":0.985},{"x":0.885,"y":1.065},{"x":0.895,"y":1.0},{"x":0.905,"y":1.045},{"x":0.915,"y":1.085},{"x":0.925,"y":1.025},{"x":0.935,"y":1.06},{"x":0.945,"y":1.03},{"x":0.955,"y":0.985},{"x":0.965,"y":1.07},{"x":0.975,"y":1.015},{"x":0.985,"y":1.045},{"x":0.995,"y":1.08},{"x":1.0,"y":1.035},{"x":0.57,"y":1.04},{"x":0.59,"y":1.01},{"x":0.61,"y":1.07},{"x":0.63,"y":1.03},{"x":0.65,"y":0.98},{"x":0.67,"y":1.04},
{"x":0.69,"y":1.08},{"x":0.71,"y":1.05},{"x":0.73,"y":1.12},{"x":0.75,"y":1.04},{"x":0.77,"y":1.07},{"x":0.79,"y":1.1},{"x":0.81,"y":1.06},{"x":0.83,"y":1.03},{"x":0.85,"y":1.08},{"x":0.87,"y":1.12},{"x":0.89,"y":1.04},{"x":0.91,"y":1.06},{"x":0.93,"y":1.1},{"x":0.95,"y":1.04},{"x":0.97,"y":1.09},{"x":0.99,"y":1.06},{"x":0.68,"y":0.95},{"x":0.76,"y":0.94},{"x":0.84,"y":0.97},{"x":0.9,"y":0.97},
{"x":0.42,"y":1.01},{"x":0.46,"y":1.07},{"x":0.5,"y":1.03},{"x":0.54,"y":1.04},{"x":0.38,"y":1.01},{"x":0.56,"y":0.97},{"x":0.35,"y":0.96},{"x":0.31,"y":1.0},{"x":0.48,"y":1.12},{"x":0.44,"y":1.04},
{"x":0.602,"y":1.0},{"x":0.612,"y":1.04},{"x":0.622,"y":1.075},{"x":0.632,"y":1.01},{"x":0.642,"y":0.98},{"x":0.652,"y":1.05},{"x":0.662,"y":1.02},{"x":0.672,"y":1.09},{"x":0.682,"y":1.035},{"x":0.692,"y":0.995},{"x":0.702,"y":1.06},{"x":0.712,"y":1.015},{"x":0.722,"y":1.08},{"x":0.732,"y":1.045},{"x":0.742,"y":1.0},{"x":0.752,"y":1.065},{"x":0.762,"y":1.02},{"x":0.772,"y":0.985},{"x":0.782,"y":1.05},{"x":0.792,"y":1.085},{"x":0.802,"y":1.03},{"x":0.812,"y":1.06},{"x":0.822,"y":1.0},{"x":0.832,"y":1.07},{"x":0.842,"y":1.035},{"x":0.852,"y":0.99},{"x":0.862,"y":1.055},{"x":0.872,"y":1.095},{"x":0.882,"y":1.02},{"x":0.892,"y":1.075},{"x":0.902,"y":1.035},{"x":0.912,"y":0.995},{"x":0.922,"y":1.05},{"x":0.932,"y":1.08},{"x":0.942,"y":1.015},{"x":0.952,"y":1.06},{"x":0.962,"y":1.035},{"x":0.972,"y":0.995},{"x":0.982,"y":1.065},{"x":0.992,"y":1.025},{"x":1.0,"y":1.09},{"x":0.607,"y":1.06},{"x":0.627,"y":1.025},{"x":0.647,"y":1.085},{"x":0.667,"y":1.045},{"x":0.687,"y":1.065},{"x":0.707,"y":1.005},{"x":0.727,"y":1.035},{"x":0.747,"y":1.09},{"x":0.767,"y":1.055},{"x":0.787,"y":1.035},{"x":0.807,"y":1.005},{"x":0.827,"y":1.055},{"x":0.847,"y":1.075},{"x":0.867,"y":1.015},{"x":0.887,"y":1.045},{"x":0.907,"y":1.065},{"x":0.927,"y":1.005},{"x":0.947,"y":1.085},{"x":0.967,"y":1.045},{"x":0.987,"y":1.01},
{"x":0.617,"y":0.96},{"x":0.657,"y":0.965},{"x":0.697,"y":0.96},{"x":0.737,"y":0.955},{"x":0.777,"y":0.965},{"x":0.817,"y":0.955},{"x":0.857,"y":0.965},{"x":0.897,"y":0.955},{"x":0.937,"y":0.965},{"x":0.977,"y":0.955},{"x":0.637,"y":1.11},{"x":0.677,"y":1.115},{"x":0.717,"y":1.105},{"x":0.757,"y":1.12},{"x":0.797,"y":1.11},{"x":0.837,"y":1.115},{"x":0.877,"y":1.105},{"x":0.917,"y":1.12},{"x":0.957,"y":1.11},{"x":0.997,"y":1.115},{"x":0.45,"y":1.02},{"x":0.47,"y":1.05},{"x":0.49,"y":0.99},{"x":0.51,"y":1.04},{"x":0.53,"y":1.065},{"x":0.55,"y":1.02},{"x":0.57,"y":1.0},{"x":0.59,"y":1.05},{"x":0.41,"y":1.04},{"x":0.43,"y":0.99},{"x":0.36,"y":1.0},{"x":0.39,"y":1.04},{"x":0.52,"y":1.01},{"x":0.56,"y":1.06},{"x":0.58,"y":1.08},{"x":0.54,"y":1.0},{"x":0.46,"y":0.98},{"x":0.48,"y":1.06},{"x":0.5,"y":1.08}
 ]
},
"hconcat":[
 {
  "width":408,"height":392,
  "resolve":{"axis":{"x":"independent","y":"independent"}},
  "layer":[
   {"data":{"name":"one"},"mark":{"type":"rule","color":"black","strokeWidth":1.3},"encoding":{"y":{"datum":1,"type":"quantitative","scale":{"type":"log","domain":[0.65,2],"nice":false},"axis":null}}},
   {"data":{"name":"s1"},"mark":{"type":"circle","size":44,"color":"#808080","opacity":0.5,"clip":true},"encoding":{
     "x":{"field":"x","type":"quantitative","scale":{"type":"log","domain":[0.06,1.3],"nice":false},"axis":{"orient":"bottom","values":[0.1,1],"format":"~g","ticks":false,"tickSize":0,"labelPadding":7,"title":"1.5″/rₑ","titlePadding":6}},
     "y":{"field":"y","type":"quantitative","scale":{"type":"log","domain":[0.65,2],"nice":false},"axis":{"orient":"left","values":[0.7,0.8,0.9,1,2],"format":".1f","ticks":false,"tickSize":0,"labelPadding":7,"title":"σfiber/σe","titleFontSize":22,"titlePadding":10}}}},
   {"data":{"name":"f1"},"mark":{"type":"line","strokeWidth":2.2,"clip":true},"encoding":{
     "x":{"field":"x","type":"quantitative","scale":{"type":"log","domain":[0.06,1.3],"nice":false},"axis":{"orient":"bottom","values":[0.1,1],"labels":false,"tickSize":-6,"title":null}},
     "y":{"field":"y","type":"quantitative","scale":{"type":"log","domain":[0.65,2],"nice":false},"axis":{"orient":"left","values":[0.7,0.8,0.9,1,2],"labels":false,"tickSize":-6,"title":null}},
     "color":{"field":"c","type":"nominal","scale":{"domain":["r","b"],"range":["#d62728","#1f77b4"]},"legend":null}}},
   {"data":{"name":"b1"},"mark":{"type":"rule","color":"black","strokeWidth":1.6},"encoding":{
     "x":{"field":"x","type":"quantitative","scale":{"type":"log","domain":[0.06,1.3],"nice":false},"axis":{"orient":"bottom","values":[0.07,0.08,0.09,0.2,0.3,0.4,0.5,0.6,0.7,0.8,0.9],"labels":false,"tickSize":-3.5,"title":null}},
     "y":{"field":"lo","type":"quantitative","scale":{"type":"log","domain":[0.65,2],"nice":false},"axis":{"orient":"right","values":[0.7,0.8,0.9,1,2],"labels":false,"tickSize":-6,"title":null}},
     "y2":{"field":"hi"}}},
   {"data":{"name":"b1"},"mark":{"type":"tick","orient":"horizontal","size":10,"thickness":1.6,"color":"black"},"encoding":{
     "x":{"field":"x","type":"quantitative","scale":{"type":"log","domain":[0.06,1.3],"nice":false},"axis":{"orient":"top","values":[0.1,1],"labels":false,"tickSize":-6,"title":null}},
     "y":{"field":"lo","type":"quantitative","scale":{"type":"log","domain":[0.65,2],"nice":false},"axis":null}}},
   {"data":{"name":"b1"},"mark":{"type":"tick","orient":"horizontal","size":10,"thickness":1.6,"color":"black"},"encoding":{
     "x":{"field":"x","type":"quantitative","scale":{"type":"log","domain":[0.06,1.3],"nice":false},"axis":{"orient":"top","values":[0.07,0.08,0.09,0.2,0.3,0.4,0.5,0.6,0.7,0.8,0.9],"labels":false,"tickSize":-3.5,"title":null}},
     "y":{"field":"hi","type":"quantitative","scale":{"type":"log","domain":[0.65,2],"nice":false},"axis":null}}},
   {"data":{"name":"b1"},"mark":{"type":"square","size":95,"filled":false,"stroke":"black","strokeWidth":1.8},"encoding":{
     "x":{"field":"x","type":"quantitative","scale":{"type":"log","domain":[0.06,1.3],"nice":false},"axis":null},
     "y":{"field":"y","type":"quantitative","scale":{"type":"log","domain":[0.65,2],"nice":false},"axis":null}}}
  ]
 },
 {
  "width":408,"height":392,
  "resolve":{"axis":{"x":"independent","y":"independent"}},
  "layer":[
   {"data":{"name":"one"},"mark":{"type":"rule","color":"black","strokeWidth":1.3},"encoding":{"y":{"datum":1,"type":"quantitative","scale":{"type":"log","domain":[0.65,2],"nice":false},"axis":null}}},
   {"data":{"name":"s2"},"mark":{"type":"circle","size":44,"color":"#808080","opacity":0.5,"clip":true},"encoding":{
     "x":{"field":"x","type":"quantitative","scale":{"type":"log","domain":[0.5,9],"nice":false},"axis":{"orient":"bottom","values":[0.6,1,2,3,4,6],"format":"~g","ticks":false,"tickSize":0,"labelPadding":7,"title":"Sérsic index","titlePadding":6}},
     "y":{"field":"y","type":"quantitative","scale":{"type":"log","domain":[0.65,2],"nice":false},"axis":null}}},
   {"data":{"name":"f2"},"mark":{"type":"line","strokeWidth":2.2,"clip":true},"encoding":{
     "x":{"field":"x","type":"quantitative","scale":{"type":"log","domain":[0.5,9],"nice":false},"axis":{"orient":"bottom","values":[1],"labels":false,"tickSize":-6,"title":null}},
     "y":{"field":"y","type":"quantitative","scale":{"type":"log","domain":[0.65,2],"nice":false},"axis":{"orient":"left","values":[0.7,0.8,0.9,1,2],"labels":false,"tickSize":-6,"title":null}},
     "color":{"field":"c","type":"nominal","scale":{"domain":["r","b"],"range":["#d62728","#1f77b4"]},"legend":null}}},
   {"data":{"name":"b2"},"mark":{"type":"rule","color":"black","strokeWidth":1.6},"encoding":{
     "x":{"field":"x","type":"quantitative","scale":{"type":"log","domain":[0.5,9],"nice":false},"axis":{"orient":"bottom","values":[0.6,0.7,0.8,0.9,2,3,4,5,6,7,8],"labels":false,"tickSize":-3.5,"title":null}},
     "y":{"field":"lo","type":"quantitative","scale":{"type":"log","domain":[0.65,2],"nice":false},"axis":{"orient":"right","values":[0.7,0.8,0.9,1,2],"labels":false,"tickSize":-6,"title":null}},
     "y2":{"field":"hi"}}},
   {"data":{"name":"b2"},"mark":{"type":"tick","orient":"horizontal","size":10,"thickness":1.6,"color":"black"},"encoding":{
     "x":{"field":"x","type":"quantitative","scale":{"type":"log","domain":[0.5,9],"nice":false},"axis":{"orient":"top","values":[1],"labels":false,"tickSize":-6,"title":null}},
     "y":{"field":"lo","type":"quantitative","scale":{"type":"log","domain":[0.65,2],"nice":false},"axis":null}}},
   {"data":{"name":"b2"},"mark":{"type":"tick","orient":"horizontal","size":10,"thickness":1.6,"color":"black"},"encoding":{
     "x":{"field":"x","type":"quantitative","scale":{"type":"log","domain":[0.5,9],"nice":false},"axis":{"orient":"top","values":[0.6,0.7,0.8,0.9,2,3,4,5,6,7,8],"labels":false,"tickSize":-3.5,"title":null}},
     "y":{"field":"hi","type":"quantitative","scale":{"type":"log","domain":[0.65,2],"nice":false},"axis":null}}},
   {"data":{"name":"b2"},"mark":{"type":"square","size":95,"filled":false,"stroke":"black","strokeWidth":1.8},"encoding":{
     "x":{"field":"x","type":"quantitative","scale":{"type":"log","domain":[0.5,9],"nice":false},"axis":null},
     "y":{"field":"y","type":"quantitative","scale":{"type":"log","domain":[0.65,2],"nice":false},"axis":null}}}
  ]
 },
 {
  "width":408,"height":392,
  "resolve":{"axis":{"x":"independent","y":"independent"}},
  "layer":[
   {"data":{"name":"one"},"mark":{"type":"rule","color":"black","strokeWidth":1.3},"encoding":{"y":{"datum":1,"type":"quantitative","scale":{"type":"log","domain":[0.65,2],"nice":false},"axis":null}}},
   {"data":{"name":"s3"},"mark":{"type":"circle","size":44,"color":"#808080","opacity":0.5,"clip":true},"encoding":{
     "x":{"field":"x","type":"quantitative","scale":{"type":"log","domain":[0.15,1.1],"nice":false},"axis":{"orient":"bottom","values":[0.2,0.3,0.4,0.6,1],"format":"~g","ticks":false,"tickSize":0,"labelPadding":7,"title":"b/a","titlePadding":6}},
     "y":{"field":"y","type":"quantitative","scale":{"type":"log","domain":[0.65,2],"nice":false},"axis":null}}},
   {"data":{"name":"f3"},"mark":{"type":"line","strokeWidth":2.2,"clip":true},"encoding":{
     "x":{"field":"x","type":"quantitative","scale":{"type":"log","domain":[0.15,1.1],"nice":false},"axis":{"orient":"bottom","values":[1],"labels":false,"tickSize":-6,"title":null}},
     "y":{"field":"y","type":"quantitative","scale":{"type":"log","domain":[0.65,2],"nice":false},"axis":{"orient":"left","values":[0.7,0.8,0.9,1,2],"labels":false,"tickSize":-6,"title":null}},
     "color":{"field":"c","type":"nominal","scale":{"domain":["r","b"],"range":["#d62728","#1f77b4"]},"legend":null}}},
   {"data":{"name":"b3"},"mark":{"type":"rule","color":"black","strokeWidth":1.6},"encoding":{
     "x":{"field":"x","type":"quantitative","scale":{"type":"log","domain":[0.15,1.1],"nice":false},"axis":{"orient":"bottom","values":[0.2,0.3,0.4,0.5,0.6,0.7,0.8,0.9],"labels":false,"tickSize":-3.5,"title":null}},
     "y":{"field":"lo","type":"quantitative","scale":{"type":"log","domain":[0.65,2],"nice":false},"axis":{"orient":"right","values":[0.7,0.8,0.9,1,2],"labels":false,"tickSize":-6,"title":null}},
     "y2":{"field":"hi"}}},
   {"data":{"name":"b3"},"mark":{"type":"tick","orient":"horizontal","size":10,"thickness":1.6,"color":"black"},"encoding":{
     "x":{"field":"x","type":"quantitative","scale":{"type":"log","domain":[0.15,1.1],"nice":false},"axis":{"orient":"top","values":[1],"labels":false,"tickSize":-6,"title":null}},
     "y":{"field":"lo","type":"quantitative","scale":{"type":"log","domain":[0.65,2],"nice":false},"axis":null}}},
   {"data":{"name":"b3"},"mark":{"type":"tick","orient":"horizontal","size":10,"thickness":1.6,"color":"black"},"encoding":{
     "x":{"field":"x","type":"quantitative","scale":{"type":"log","domain":[0.15,1.1],"nice":false},"axis":{"orient":"top","values":[0.2,0.3,0.4,0.5,0.6,0.7,0.8,0.9],"labels":false,"tickSize":-3.5,"title":null}},
     "y":{"field":"hi","type":"quantitative","scale":{"type":"log","domain":[0.65,2],"nice":false},"axis":null}}},
   {"data":{"name":"b3"},"mark":{"type":"square","size":95,"filled":false,"stroke":"black","strokeWidth":1.8},"encoding":{
     "x":{"field":"x","type":"quantitative","scale":{"type":"log","domain":[0.15,1.1],"nice":false},"axis":null},
     "y":{"field":"y","type":"quantitative","scale":{"type":"log","domain":[0.65,2],"nice":false},"axis":null}}}
  ]
 }
]
}
